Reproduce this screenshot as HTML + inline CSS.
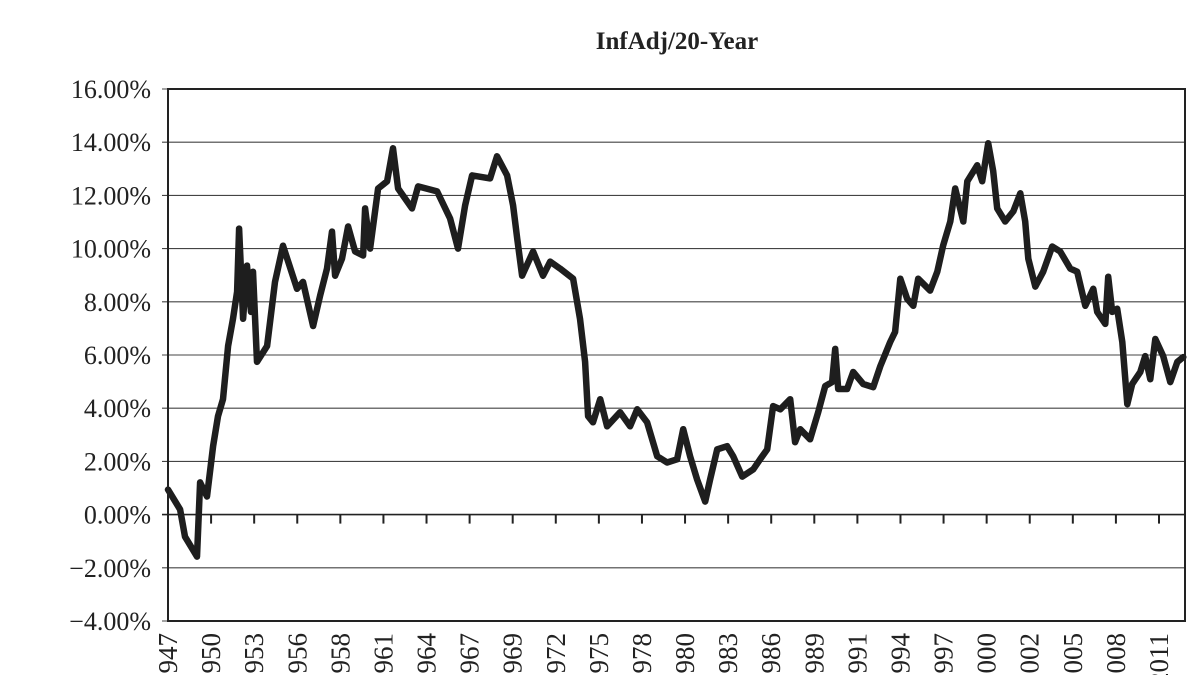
<!DOCTYPE html>
<html><head><meta charset="utf-8"><style>
html,body{margin:0;padding:0;background:#fff;width:1200px;height:675px;overflow:hidden}
svg text{font-family:"Liberation Serif",serif;fill:#222}
</style></head><body>
<svg id="chart" width="1200" height="675" viewBox="0 0 1200 675" xmlns="http://www.w3.org/2000/svg">
<text x="677" y="49" text-anchor="middle" font-size="25" font-weight="bold">InfAdj/20-Year</text>
<g id="grid"></g><g id="ylabels"></g><g id="xaxis"></g>
<path id="line" fill="none" stroke="#1e1e1e" stroke-width="6.5" stroke-linejoin="round" stroke-linecap="round"/>
<rect x="168" y="89" width="1017" height="532" fill="none" stroke="#222" stroke-width="2"/>
</svg>
<script>
const years=[1947.0,1947.78,1948.1,1948.87,1949.07,1949.52,1949.91,1950.23,1950.55,1950.88,1951.2,1951.46,1951.59,1951.85,1952.1,1952.36,1952.49,1952.75,1953.4,1953.91,1954.43,1955.33,1955.72,1956.37,1956.82,1957.27,1957.59,1957.79,1958.24,1958.63,1959.08,1959.6,1959.73,1960.05,1960.57,1961.15,1961.53,1961.86,1962.76,1963.15,1964.38,1965.22,1965.73,1966.19,1966.64,1967.8,1968.25,1968.9,1969.29,1969.55,1969.87,1970.58,1971.22,1971.68,1972.32,1973.16,1973.61,1973.94,1974.13,1974.45,1974.91,1975.36,1976.2,1976.84,1977.3,1977.94,1978.59,1979.23,1979.88,1980.27,1980.72,1981.17,1981.69,1982.01,1982.47,1983.11,1983.5,1984.08,1984.79,1985.24,1985.7,1986.08,1986.54,1987.18,1987.5,1987.83,1988.47,1988.99,1989.44,1989.89,1990.09,1990.28,1990.86,1991.25,1991.9,1992.54,1993.0,1993.64,1993.96,1994.29,1994.74,1995.13,1995.45,1996.22,1996.68,1997.06,1997.52,1997.84,1998.36,1998.62,1999.26,1999.58,1999.97,2000.29,2000.55,2001.07,2001.59,2002.04,2002.36,2002.56,2003.01,2003.52,2004.1,2004.62,2005.27,2005.72,2006.24,2006.76,2007.01,2007.53,2007.72,2007.98,2008.3,2008.63,2008.95,2009.27,2009.79,2010.11,2010.44,2010.76,2011.27,2011.73,2012.18,2012.57];
const returns=[0.94,0.19,-0.83,-1.58,1.21,0.68,2.57,3.70,4.34,6.34,7.36,8.38,10.75,7.36,9.36,7.62,9.13,5.74,6.34,8.75,10.11,8.49,8.75,7.09,8.23,9.25,10.64,8.98,9.62,10.83,9.89,9.74,11.51,10.0,12.26,12.53,13.77,12.26,11.51,12.34,12.15,11.13,10.0,11.62,12.75,12.64,13.47,12.75,11.62,10.38,8.98,9.89,8.98,9.51,9.25,8.87,7.36,5.74,3.70,3.47,4.34,3.32,3.85,3.32,3.96,3.47,2.19,1.96,2.08,3.21,2.19,1.32,0.49,1.32,2.45,2.57,2.19,1.43,1.70,2.08,2.45,4.08,3.96,4.34,2.72,3.21,2.83,3.85,4.83,4.98,6.23,4.72,4.72,5.36,4.91,4.79,5.58,6.49,6.87,8.87,8.11,7.85,8.87,8.42,9.13,10.11,11.02,12.26,11.02,12.53,13.13,12.53,13.96,12.91,11.51,11.02,11.4,12.08,11.02,9.62,8.57,9.13,10.08,9.89,9.25,9.13,7.85,8.49,7.62,7.17,8.94,7.62,7.74,6.49,4.15,4.91,5.36,5.96,5.09,6.6,5.96,4.98,5.74,5.92];
const yTicks=[16,14,12,10,8,6,4,2,0,-2,-4];
const xTickLabels=["1947","1950","1953","1956","1958","1961","1964","1967","1969","1972","1975","1978","1980","1983","1986","1989","1991","1994","1997","2000","2002","2005","2008","2011"];

const NS="http://www.w3.org/2000/svg";
const X0=168,X1=1185,Y0=89,Y1=621;
const xs=y=>X0+(y-1947)*(991/64);
const ys=v=>Y1-(v+4)*(Y1-Y0)/20;
const grid=document.getElementById('grid'),yl=document.getElementById('ylabels'),xa=document.getElementById('xaxis');
yTicks.forEach(t=>{
  const l=document.createElementNS(NS,'line');
  
  
  l.setAttribute('x1',X0-6);l.setAttribute('x2',X1);
  l.setAttribute('y1',ys(t));l.setAttribute('y2',ys(t));
  l.setAttribute('stroke',t===0?'#222':'#444');l.setAttribute('stroke-width',t===0?1.6:1.1);
  grid.appendChild(l);
  const tx=document.createElementNS(NS,'text');
  
  
  tx.setAttribute('x',151);tx.setAttribute('y',ys(t)+9);
  tx.setAttribute('text-anchor','end');tx.setAttribute('font-size','26');
  tx.textContent=(t<0?'\u2212'+Math.abs(t).toFixed(2):t.toFixed(2))+'%';
  yl.appendChild(tx);
});
const step=(1159-168)/(xTickLabels.length-1);
xTickLabels.forEach((lab,i)=>{
  const x=X0+i*step;
  if(i>0){
    const tk=document.createElementNS(NS,'line');
    
    
    tk.setAttribute('x1',x);tk.setAttribute('x2',x);
    tk.setAttribute('y1',ys(0));tk.setAttribute('y2',ys(0)+9);
    tk.setAttribute('stroke','#222');tk.setAttribute('stroke-width','2');
    xa.appendChild(tk);
  }
  const tx=document.createElementNS(NS,'text');
  
  
  tx.setAttribute('transform','translate('+(x+9)+',633) rotate(-90)');
  tx.setAttribute('text-anchor','end');tx.setAttribute('font-size','27');
  tx.textContent=lab;
  xa.appendChild(tx);
});
let d='';
years.forEach((y,i)=>{d+=(i?'L':'M')+xs(y).toFixed(1)+','+ys(returns[i]).toFixed(1);});
document.getElementById('line').setAttribute('d',d);
</script>
</body></html>
